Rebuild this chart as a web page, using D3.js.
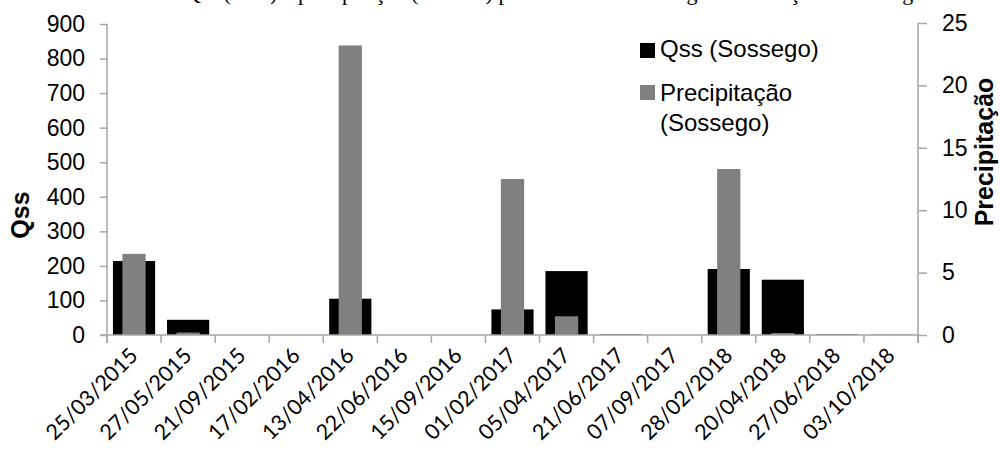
<!DOCTYPE html>
<html lang="pt">
<head>
<meta charset="UTF-8">
<style>
    body { margin: 0; background: #fff; }
    svg text { font-family: "Liberation Sans", Arial, sans-serif; fill: #000; }
    .axis path, .axis line { stroke: #a6a6a6; stroke-width: 1.5px; }
    .axis text { font-size: 23px; }
</style>
</head>
<body>
<div id="chart"></div>
<script src="https://cdnjs.cloudflare.com/ajax/libs/d3/7.8.5/d3.min.js"></script>
<script>
    // dados
    var datas = ["25/03/2015", "27/05/2015", "21/09/2015", "17/02/2016", "13/04/2016",
        "22/06/2016", "15/09/2016", "01/02/2017", "05/04/2017", "21/06/2017",
        "07/09/2017", "28/02/2018", "20/04/2018", "27/06/2018", "03/10/2018"];
    var qss = [214, 44, 0, 0, 105, 0, 0, 74, 185, 2, 0, 191, 160, 2, 1];
    var precipitacao = [6.5, 0.2, 0, 0, 23.2, 0, 0, 12.5, 1.5, 0, 0, 13.3, 0.15, 0, 0];
    var qssTicks = [0, 100, 200, 300, 400, 500, 600, 700, 800, 900];
    var precTicks = [0, 5, 10, 15, 20, 25];
    var legenda = ["Qss (Sossego)", "Precipitação"];

    var width = 1000, height = 450;
    var left = 107, right = 918, bottom = 335;

    var svg = d3.select("#chart").append("svg")
        .attr("width", width)
        .attr("height", height);

    // titulo cortado no topo da figura (so aparecem as descendentes)
    svg.append("text")
        .attr("x", 185)
        .attr("y", 0)
        .style("font-family", "'Liberation Serif', 'Times New Roman', serif")
        .style("font-size", "22px")
        .text("Qss (t/dia) e precipitação (mm/dia) para a bacia do Sossego e na estação de Sossego");

    var x = d3.scaleBand().domain(datas).range([left, right]);
    var xQss = d3.scaleBand().domain(datas).range([left, right]).paddingInner(0.22).paddingOuter(0.11);
    var xPrec = d3.scaleBand().domain(datas).range([left, right]).paddingInner(0.57).paddingOuter(0.285);

    var yL = d3.scaleLinear().domain([0, 900]).range([bottom, 24]);
    var yR = d3.scaleLinear().domain([0, 25]).range([bottom, 23]);

    // barras Qss (eixo esquerdo)
    svg.selectAll(".qss")
        .data(qss)
        .enter().append("rect")
        .attr("class", "qss")
        .attr("x", function (d, i) { return xQss(datas[i]); })
        .attr("width", xQss.bandwidth())
        .attr("y", function (d) { return yL(d); })
        .attr("height", function (d) { return bottom - yL(d); })
        .style("fill", "#000");

    // barras precipitacao (eixo direito)
    svg.selectAll(".prec")
        .data(precipitacao)
        .enter().append("rect")
        .attr("class", "prec")
        .attr("x", function (d, i) { return xPrec(datas[i]); })
        .attr("width", xPrec.bandwidth())
        .attr("y", function (d) { return yR(d); })
        .attr("height", function (d) { return bottom - yR(d); })
        .style("fill", "#808080");

    var axL = svg.append("g")
        .attr("class", "axis")
        .attr("transform", "translate(" + left + ",0)")
        .call(d3.axisLeft(yL).tickValues(qssTicks).tickSize(7).tickPadding(15));
    axL.select(".domain").attr("d", "M0," + yL(900) + "V" + (bottom + 8));

    var axR = svg.append("g")
        .attr("class", "axis")
        .attr("transform", "translate(" + right + ",0)")
        .call(d3.axisRight(yR).tickValues(precTicks).tickSize(9).tickPadding(15));
    axR.select(".domain").attr("d", "M0," + yR(25) + "V" + (bottom + 8));

    // eixo x com marcas nas divisoes das categorias
    var axX = svg.append("g")
        .attr("class", "axis")
        .attr("transform", "translate(0," + bottom + ")")
        .call(d3.axisBottom(x).tickSize(0).tickFormat(""));
    axX.select(".domain").attr("d", "M" + (left - 7) + ",0H" + right);

    var bordas = datas.map(function (d) { return x(d); }).concat([right]);
    axX.selectAll(".borda")
        .data(bordas)
        .enter().append("line")
        .attr("class", "borda")
        .attr("x1", function (d) { return d; })
        .attr("x2", function (d) { return d; })
        .attr("y1", 0)
        .attr("y2", 8);

    svg.selectAll(".xLabel")
        .data(datas)
        .enter().append("text")
        .attr("class", "xLabel")
        .attr("transform", function (d) {
            return "translate(" + (x(d) + x.bandwidth() / 2 + 5) + ",357) rotate(-45)";
        })
        .style("text-anchor", "end")
        .style("font-family", "Lato, 'Open Sans', sans-serif")
        .style("font-size", "21.5px")
        .text(function (d) { return d; });

    // titulos dos eixos
    svg.append("text")
        .attr("transform", "translate(29,215) rotate(-90)")
        .style("text-anchor", "middle")
        .style("font-weight", "bold")
        .style("font-size", "25px")
        .text("Qss");

    svg.append("text")
        .attr("transform", "translate(993,152) rotate(-90)")
        .style("text-anchor", "middle")
        .style("font-weight", "bold")
        .style("font-size", "25px")
        .text("Precipitação");

    // legenda
    var cores = ["#000", "#808080"];
    var leg = svg.append("g").attr("transform", "translate(640,0)");
    leg.selectAll("rect")
        .data(legenda)
        .enter().append("rect")
        .attr("x", 0)
        .attr("y", function (d, i) { return i === 0 ? 43 : 85; })
        .attr("width", 15)
        .attr("height", 15)
        .style("fill", function (d, i) { return cores[i]; });
    leg.selectAll("text")
        .data(legenda.concat(["(Sossego)"]))
        .enter().append("text")
        .attr("x", 20)
        .attr("y", function (d, i) { return [57, 101, 131][i]; })
        .style("font-size", "24px")
        .text(function (d) { return d; });
</script>
</body>
</html>
